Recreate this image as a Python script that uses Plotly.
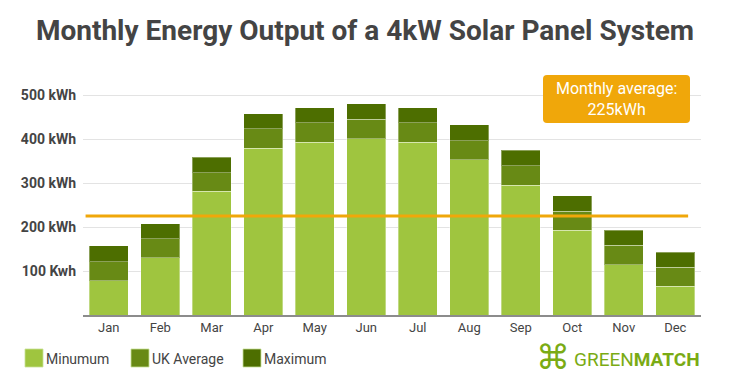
import plotly.graph_objects as go

months = ["Jan", "Feb", "Mar", "Apr", "May", "Jun", "Jul", "Aug", "Sep", "Oct", "Nov", "Dec"]
minimum = [78, 130, 281, 379, 393, 401, 393, 353, 295, 193, 114, 65]
uk_average = [121, 173, 323, 423, 437, 445, 437, 396, 339, 236, 158, 109]
maximum = [157, 207, 358, 457, 471, 480, 471, 432, 374, 271, 193, 143]
monthly_average = 225
y_tickvals = [100, 200, 300, 400, 500]
y_ticktext = ["100 Kwh", "200 kWh", "300 kWh", "400 kWh", "500 kWh"]
series_names = ["Minumum", "UK Average", "Maximum"]
colors = ["#9FC53F", "#688A15", "#4D6E00"]
orange = "#F0A70A"
text_color = "#444444"
logo_green = "#7AAB14"

W, H = 730, 388
ML, MR, MT, MB = 83, 29, 75, 73
PW, PH = W - ML - MR, H - MT - MB


def px(x):
    return (x - ML) / PW


def py(y):
    return (H - MB - y) / PH


avg_seg = [a - m for a, m in zip(uk_average, minimum)]
max_seg = [x - a for x, a in zip(maximum, uk_average)]

fig = go.Figure()
for name, vals, col in zip(series_names, [minimum, avg_seg, max_seg], colors):
    fig.add_trace(go.Bar(
        x=months, y=vals, name=name,
        marker=dict(color=col, line=dict(color="rgba(255,255,255,0.35)", width=1)),
        showlegend=False,
    ))

shapes = []
# average line
shapes.append(dict(type="line", xref="x", yref="y", x0=-0.45, x1=11.25,
                   y0=monthly_average, y1=monthly_average,
                   line=dict(color=orange, width=3), layer="above"))


def rrect(x0, y0, x1, y1, r):
    def P(x, y):
        return f"{px(x):.5f},{py(y):.5f}"
    return (f"M {P(x0 + r, y0)} L {P(x1 - r, y0)} Q {P(x1, y0)} {P(x1, y0 + r)} "
            f"L {P(x1, y1 - r)} Q {P(x1, y1)} {P(x1 - r, y1)} "
            f"L {P(x0 + r, y1)} Q {P(x0, y1)} {P(x0, y1 - r)} "
            f"L {P(x0, y0 + r)} Q {P(x0, y0)} {P(x0 + r, y0)} Z")


shapes.append(dict(type="path", xref="paper", yref="paper",
                   path=rrect(543, 75, 690, 123, 4),
                   fillcolor=orange, line=dict(width=0), layer="above"))

annotations = [dict(xref="paper", yref="paper", x=px(616.5), y=py(99),
                    text="Monthly average:<br>225kWh", showarrow=False,
                    font=dict(family="Roboto", size=16, color="white"),
                    xanchor="center", yanchor="middle", align="center")]

# custom legend
leg_x = [25, 131, 243]
for lx, name, col in zip(leg_x, series_names, colors):
    shapes.append(dict(type="rect", xref="paper", yref="paper",
                       x0=px(lx), x1=px(lx + 18), y0=py(367), y1=py(349),
                       fillcolor=col, line=dict(color="rgba(200,225,150,0.8)", width=1)))
    annotations.append(dict(xref="paper", yref="paper", x=px(lx + 19), y=py(358.5),
                            text=name, showarrow=False, xanchor="left", yanchor="middle",
                            font=dict(family="Roboto", size=14, color=text_color)))

# logo
annotations.append(dict(xref="paper", yref="paper", x=px(553), y=py(357),
                        text="⌘", showarrow=False, xanchor="center", yanchor="middle",
                        font=dict(family="DejaVu Sans", size=34, color=logo_green)))
annotations.append(dict(xref="paper", yref="paper", x=px(572), y=py(359.5),
                        text="GREEN<b>MATCH</b>", showarrow=False, xanchor="left", yanchor="middle",
                        font=dict(family="Roboto", size=19, color=logo_green)))

fig.update_layout(
    width=W, height=H,
    margin=dict(l=ML, r=MR, t=MT, b=MB, pad=0),
    paper_bgcolor="white", plot_bgcolor="white",
    barmode="stack", bargap=0.24,
    title=dict(text="<b>Monthly Energy Output of a 4kW Solar Panel System</b>",
               x=0.5, xref="container", xanchor="center",
               y=1 - 30 / H, yref="container", yanchor="middle",
               font=dict(family="Roboto", size=28, color=text_color)),
    shapes=shapes, annotations=annotations,
    showlegend=False,
)
fig.update_xaxes(showline=True, linecolor="#8c8c8c", linewidth=1.5, showgrid=False,
                 ticks="", tickfont=dict(family="Roboto", size=13, color=text_color),
                 fixedrange=True)
fig.update_yaxes(range=[0, PH / 0.44], tickvals=y_tickvals, ticktext=y_ticktext,
                 showgrid=True, gridcolor="#e3e3e3", gridwidth=1, zeroline=False,
                 ticks="", ticklabelstandoff=6,
                 tickfont=dict(family="Roboto", size=14, color=text_color, weight="bold"),
                 fixedrange=True)

fig.write_html("out.html", config={"displayModeBar": False},
               post_script="document.body.style.margin='0';document.body.style.overflow='hidden';")
